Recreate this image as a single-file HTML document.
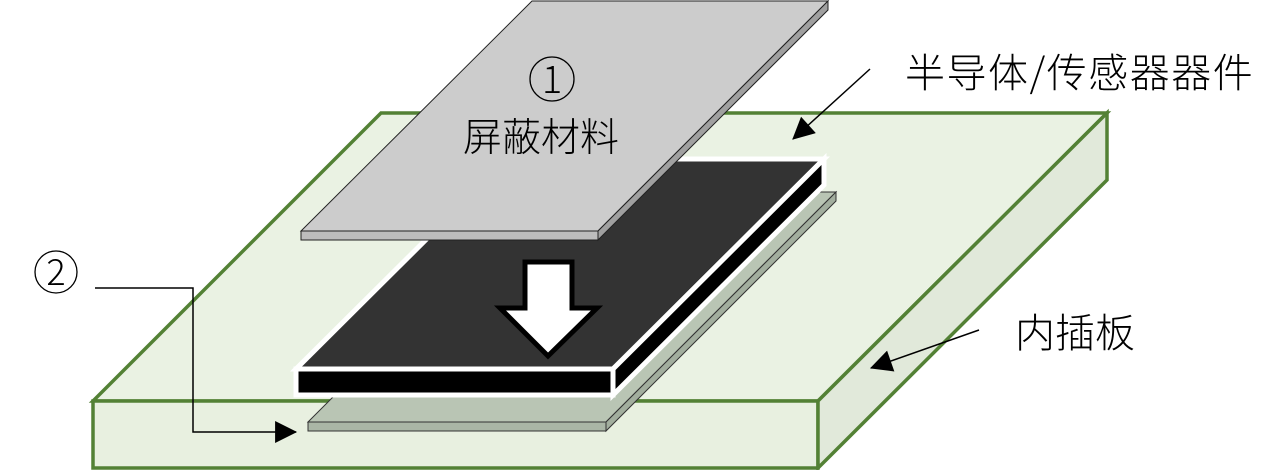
<!DOCTYPE html>
<html><head><meta charset="utf-8"><style>
html,body{margin:0;padding:0;background:#fff;width:1286px;height:470px;overflow:hidden}
svg text{font-family:"Liberation Sans","Noto Sans CJK SC",sans-serif;fill:#000}
</style></head><body>
<svg width="1286" height="470" viewBox="0 0 1286 470" xmlns="http://www.w3.org/2000/svg">
<defs>
<marker id="ah" viewBox="0 0 10 10" refX="9.5" refY="5" markerWidth="28" markerHeight="22" markerUnits="userSpaceOnUse" orient="auto"><path d="M0,0L10,5L0,10z" fill="#000"/></marker>
</defs>
<!-- board -->
<g stroke="#538135" stroke-width="3.5" stroke-linejoin="miter">
<polygon points="93,401 818,401 1107,113 381,113" fill="#eaf2e3"/>
<polygon points="93,401 818,401 818,468 93,468" fill="#e8f0e0"/>
<polygon points="818,401 1107,113 1107,180 818,468" fill="#e1e9da"/>
</g>
<!-- substrate layer -->
<g stroke="#333" stroke-width="1">
<polygon points="308,422 606,422 836,192 538,192" fill="#b9c5b4"/>
<polygon points="308,422 606,422 606,431 308,431" fill="#aab6a6"/>
<polygon points="606,422 836,192 836,201 606,431" fill="#a2ae9e"/>
</g>
<!-- device -->
<g stroke="#fff" stroke-width="5" stroke-linejoin="miter">
<polygon points="296,369 613,369 824,159 507,159" fill="#333"/>
<polygon points="296,369 613,369 613,395 296,395" fill="#000"/>
<polygon points="613,369 824,159 824,185 613,395" fill="#000"/>
</g>
<!-- arrow -->
<polygon points="525,262 572,262 572,308 597,308 548,356 500,308 525,308" fill="#fff" stroke="#000" stroke-width="5" stroke-linejoin="miter"/>
<!-- shield -->
<g stroke="#222" stroke-width="1">
<polygon points="301,231 598,231 828,1 532,1" fill="#cccccc"/>
<polygon points="301,231 598,231 598,240 301,240" fill="#bdbdbd"/>
<polygon points="598,231 828,1 828,10 598,240" fill="#a0a0a0"/>
</g>
<circle cx="552" cy="79" r="22" fill="none" stroke="#000" stroke-width="1.3"/>
<text x="552" y="93" font-size="38" text-anchor="middle" style="font-family:'Noto Sans CJK SC',sans-serif;font-weight:300">1</text>
<text x="541" y="151" font-size="39" text-anchor="middle" style="font-family:'Noto Sans CJK SC',sans-serif;font-weight:300">屏蔽材料</text>
<!-- labels -->
<text x="905" y="87" font-size="40" letter-spacing="1.5" style="font-family:'Noto Sans CJK SC',sans-serif;font-weight:300">半导体/传感器器件</text>
<line x1="870" y1="69" x2="793" y2="139" stroke="#000" stroke-width="1.5" marker-end="url(#ah)"/>
<text x="1015" y="347" font-size="40" style="font-family:'Noto Sans CJK SC',sans-serif;font-weight:300">内插板</text>
<line x1="979" y1="330" x2="871" y2="368" stroke="#000" stroke-width="1.5" marker-end="url(#ah)"/>
<circle cx="56" cy="272" r="21" fill="none" stroke="#000" stroke-width="1.3"/>
<text x="56" y="285" font-size="36" text-anchor="middle" style="font-family:'Noto Sans CJK SC',sans-serif;font-weight:300">2</text>
<polyline points="95,288 193,288 193,432 296,432" fill="none" stroke="#000" stroke-width="1.5" marker-end="url(#ah)"/>
</svg>
</body></html>
